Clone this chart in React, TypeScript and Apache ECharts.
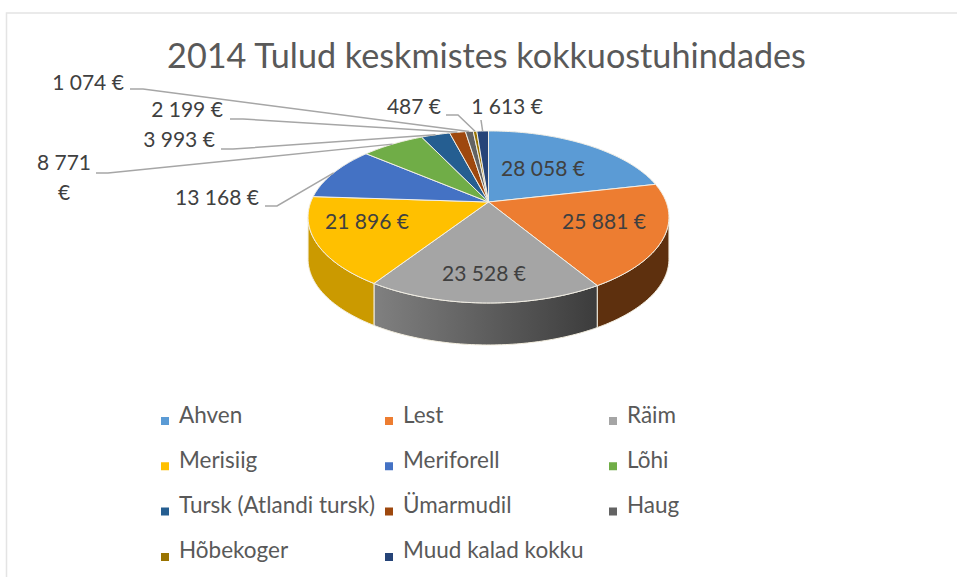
import React, { useEffect, useRef } from "react";
import * as echarts from "echarts";

const TITLE = "2014 Tulud keskmistes kokkuostuhindades";
const NAMES = ["Ahven", "Lest", "Räim", "Merisiig", "Meriforell", "Lõhi", "Tursk (Atlandi tursk)", "Ümarmudil", "Haug", "Hõbekoger", "Muud kalad kokku"];
const VALUES = [28058, 25881, 23528, 21896, 13168, 8771, 3993, 2199, 1074, 487, 1613];
const LABELS = ["28 058 €", "25 881 €", "23 528 €", "21 896 €", "13 168 €", "8 771\n€", "3 993 €", "2 199 €", "1 074 €", "487 €", "1 613 €"];
const COLORS = ["#5B9BD5", "#ED7D31", "#A5A5A5", "#FFC000", "#4472C4", "#70AD47", "#255E91", "#9E480E", "#636363", "#997300", "#264478"];

const FONT = "Lato, 'Open Sans', sans-serif";
const TOTAL = VALUES.reduce((a, b) => a + b, 0);

// Projection of the tilted disc
const APEX_X = 488.5, APEX_Y = 202, P = 0.174, B = 83.4, R = 177.7, DEPTH = 42;
const FRONT_START = 100, FRONT_END = 260;

function rim(deg: number): [number, number] {
  const t = (deg * Math.PI) / 180;
  const u = Math.sin(t), v = -Math.cos(t);
  const d = 1 - P * v;
  return [APEX_X + (R * u) / d, APEX_Y + (B * v) / d];
}
function arc(a: number, b: number): [number, number][] {
  const pts: [number, number][] = [];
  const n = Math.max(1, Math.ceil(b - a));
  for (let i = 0; i <= n; i++) pts.push(rim(a + ((b - a) * i) / n));
  return pts;
}

// Label anchors: inner labels sit on the slice, outer ones have an elbow
const LABEL_POS: [number, number][] = [[543, 167], [604, 220], [484, 272], [367, 220], [217, 196], [64, 176], [179, 138], [187, 108], [88, 81], [414, 105], [507, 105]];
const ELBOWS: ([number, number][] | null)[] = [null, null, null, null, [[265, 206], [277, 206]], [[96, 173], [108, 173]], [[221, 149], [233, 149]], [[230, 119], [243, 119]], [[130, 89], [143, 89]], [[446, 115], [458, 115]], [[481, 120]]];

const wallFill = (i: number): any => {
  if (i === 2) return new echarts.graphic.LinearGradient(0, 0, 1, 0, [{ offset: 0, color: "#808080" }, { offset: 1, color: "#3c3c3c" }]);
  if (i === 1) return "#5E300E";
  if (i === 3) return "#CB9A00";
  return COLORS[i];
};

function makeRenderItem(i: number) {
  return () => {
    const start = (VALUES.slice(0, i).reduce((a, b) => a + b, 0) / TOTAL) * 360;
    const end = start + (VALUES[i] / TOTAL) * 360;
    const mid = (start + end) / 2;
    const children: any[] = [];
    const wa = Math.max(start, FRONT_START), wb = Math.min(end, FRONT_END);
    if (wb > wa) {
      const top = arc(wa, wb);
      const bottom = top.map(([x, y]) => [x, y + DEPTH]).reverse();
      children.push({
        type: "polygon",
        shape: { points: [...top, ...bottom] },
        style: { fill: wallFill(i), stroke: "#f4efe0", lineWidth: 1 },
      });
    }
    children.push({
      type: "polygon",
      shape: { points: [[APEX_X, APEX_Y], ...arc(start, end)] },
      style: { fill: COLORS[i], stroke: "#f2efe6", lineWidth: 1 },
    });
    const elbow = ELBOWS[i];
    if (elbow) {
      children.push({
        type: "polyline",
        shape: { points: [...elbow, rim(mid)] },
        style: { fill: "none", stroke: "#a6a6a6", lineWidth: 1.5 },
        z2: 5,
      });
    }
    children.push({
      type: "text",
      style: {
        text: LABELS[i],
        x: LABEL_POS[i][0],
        y: LABEL_POS[i][1],
        align: "center",
        verticalAlign: "middle",
        fontFamily: FONT,
        fontSize: 21,
        lineHeight: 30,
        fill: "#404040",
      },
      z2: 10,
    });
    return { type: "group", children };
  };
}

const COLUMNS = [161, 385, 609];
// An 8x8 square at the foot of a 8x22 box, so it sits below the text's centre
const LEGEND_ICON = "path://M0,0L8,0L8,0L0,0ZM0,14L8,14L8,22L0,22Z";

export default function App() {
  const ref = useRef<HTMLDivElement>(null);
  useEffect(() => {
    document.body.style.margin = "0";
    const chart = echarts.init(ref.current!, undefined, { renderer: "svg" });
    chart.setOption({
      animation: false,
      backgroundColor: "#fff",
      title: {
        text: TITLE,
        left: 481.5,
        top: 32,
        textAlign: "center",
        textStyle: { fontFamily: FONT, fontSize: 34.2, fontWeight: "normal", color: "#595959" },
      },
      graphic: [{
        type: "polyline",
        shape: { points: [[6.5, 577], [6.5, 13], [957, 13]] },
        style: { fill: "none", stroke: "#e4e4e4", lineWidth: 1.5 },
      }],
      legend: COLUMNS.map((left, c) => ({
        left,
        top: 398,
        orient: "vertical",
        selectedMode: false,
        icon: LEGEND_ICON,
        itemWidth: 8,
        itemHeight: 22,
        itemGap: 13.3,
        padding: 0,
        data: NAMES.filter((_, i) => i % 3 === c),
        textStyle: { fontFamily: FONT, fontSize: 22.5, lineHeight: 24, color: "#595959", padding: [0, 0, 8, 5] },
      })),
      series: NAMES.map((name, i) => ({
        type: "custom",
        name,
        coordinateSystem: "none",
        clip: false,
        itemStyle: { color: COLORS[i] },
        data: [[VALUES[i]]],
        renderItem: makeRenderItem(i),
      })),
    });
    return () => chart.dispose();
  }, []);
  return <div ref={ref} style={{ width: 957, height: 577 }} />;
}
